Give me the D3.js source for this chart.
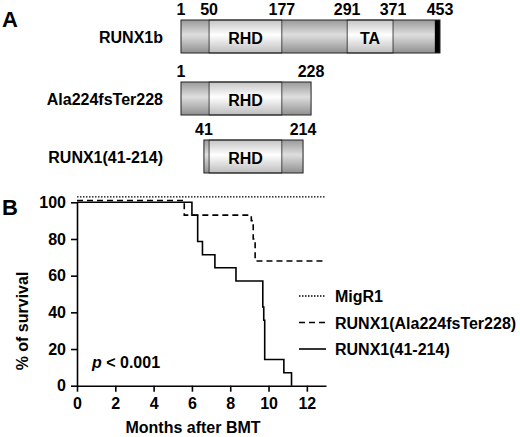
<!DOCTYPE html>
<html><head><meta charset="utf-8">
<script src="https://cdn.jsdelivr.net/npm/d3@7"></script>
<style>body{margin:0;background:#fff}text{font-family:Arial,"Liberation Sans",sans-serif;font-weight:bold}</style>
</head><body><div id="chart"></div>
<script>
// panel A: protein constructs
const constructs = ["RUNX1b", "Ala224fsTer228", "RUNX1(41-214)"]
const starts = [1, 1, 41]
const ends = [453, 228, 214]
const domainNames = ["RHD", "TA"]
const domainStart = [50, 291]
const domainEnd = [177, 371]
const posLabels = [[1, 50, 177, 291, 371, 453], [1, 228], [41, 214]]

// panel B: survival curves
const months = [0, 2, 4, 6, 8, 10, 12]
const pctTicks = [0, 20, 40, 60, 80, 100]
const migrT = [0, 13], migrS = [103, 103]
const alaT = [0, 5.6, 5.6, 9.1, 9.1, 9.2, 9.2, 9.3, 9.3, 13]
const alaS = [101, 101, 93, 93, 90, 90, 80, 80, 68, 68]
const runT = [0, 6.0, 6.0, 6.3, 6.3, 6.55, 6.55, 7.2, 7.2, 8.3, 8.3, 9.7, 9.7, 9.75, 9.75, 9.8, 9.8, 10.8, 10.8, 11.2, 11.2]
const runS = [100, 100, 92.9, 92.9, 78.6, 78.6, 71.4, 71.4, 64.3, 64.3, 57.1, 57.1, 42.9, 42.9, 35.7, 35.7, 14.3, 14.3, 7.1, 7.1, 0]

const svg = d3.select("#chart").append("svg").attr("width", 520).attr("height", 437)
const defs = svg.append("defs")
function grad(id, stops) {
  const g = defs.append("linearGradient").attr("id", id).attr("x1", 0).attr("y1", 0).attr("x2", 0).attr("y2", 1)
  stops.forEach(s => g.append("stop").attr("offset", s[0]).attr("stop-color", s[1]))
}
grad("gray", [[0, "#9a9a9a"], [0.45, "#dedede"], [1, "#909090"]])
grad("white", [[0, "#c4c4c4"], [0.45, "#ffffff"], [1, "#bcbcbc"]])

svg.append("text").attr("x", 2).attr("y", 27).attr("font-size", 22).text("A")
svg.append("text").attr("x", 2).attr("y", 215).attr("font-size", 22).text("B")

const aa = d3.scaleLinear().domain([1, 453]).range([181, 440])
const rowY = [20, 82, 140], barH = 33
constructs.forEach((name, i) => {
  const g = svg.append("g")
  const y = rowY[i]
  g.append("text").attr("x", 163).attr("y", y + 23).attr("text-anchor", "end").attr("font-size", 16).text(name)
  g.append("rect").attr("x", aa(starts[i])).attr("y", y).attr("width", aa(ends[i]) - aa(starts[i])).attr("height", barH)
    .attr("fill", "url(#gray)")
  domainNames.forEach((d, j) => {
    if (domainStart[j] >= ends[i]) return
    const x0 = aa(domainStart[j]), x1 = aa(Math.min(domainEnd[j], ends[i]))
    g.append("rect").attr("x", x0).attr("y", y).attr("width", x1 - x0).attr("height", barH)
      .attr("fill", "url(#white)").attr("stroke", "#222").attr("stroke-width", 0.8)
    g.append("text").attr("x", (x0 + x1) / 2).attr("y", y + 24).attr("text-anchor", "middle").attr("font-size", 16).text(d)
  })
  if (ends[i] === 453) {
    g.append("rect").attr("x", aa(444)).attr("y", y).attr("width", aa(453) - aa(444)).attr("height", barH).attr("fill", "#000")
  }
  g.append("rect").attr("x", aa(starts[i])).attr("y", y).attr("width", aa(ends[i]) - aa(starts[i])).attr("height", barH)
    .attr("fill", "none").attr("stroke", "#222").attr("stroke-width", 1)
  posLabels[i].forEach(p => {
    g.append("text").attr("x", aa(p)).attr("y", y - 5).attr("text-anchor", "middle").attr("font-size", 16).text(p)
  })
})

const x = d3.scaleLinear().domain([0, 13]).range([77, 326])
const yS = d3.scaleLinear().domain([0, 100]).range([385.7, 202.3])

svg.append("g").attr("transform", "translate(0,385.7)")
  .call(d3.axisBottom(x).tickValues(months).tickSize(6).tickPadding(6).tickSizeOuter(0))
  .call(g => g.selectAll("text").attr("font-size", 16).attr("font-family", "Arial").attr("fill", "#000"))
  .call(g => g.selectAll("path,line").attr("stroke", "#000").attr("stroke-width", 1.6))
svg.append("g").attr("transform", "translate(77,0)")
  .call(d3.axisLeft(yS).tickValues(pctTicks).tickSize(6).tickPadding(5).tickSizeOuter(0))
  .call(g => g.selectAll("text").attr("font-size", 16).attr("font-family", "Arial").attr("fill", "#000"))
  .call(g => g.selectAll("path,line").attr("stroke", "#000").attr("stroke-width", 1.6))

const line = d3.line().x(d => x(d[0])).y(d => yS(d[1]))
const series = [
  { t: migrT, s: migrS, dash: "1.5,1.5", w: 1.3 },
  { t: alaT, s: alaS, dash: "6,4", w: 1.6 },
  { t: runT, s: runS, dash: null, w: 1.6 }
]
series.forEach(d => {
  svg.append("path").datum(d.t.map((t, i) => [t, d.s[i]])).attr("d", line)
    .attr("fill", "none").attr("stroke", "#000").attr("stroke-width", d.w).attr("stroke-dasharray", d.dash)
})

svg.append("text").attr("x", 22).attr("y", 321).attr("text-anchor", "middle").attr("font-size", 16)
  .attr("dy", 6).attr("transform", "rotate(-90,22,321)").text("% of survival")
svg.append("text").attr("x", 193).attr("y", 433).attr("text-anchor", "middle").attr("font-size", 16).text("Months after BMT")
const p = svg.append("text").attr("x", 92).attr("y", 368).attr("font-size", 16)
p.append("tspan").attr("font-style", "italic").text("p")
p.append("tspan").text(" < 0.001")

const legNames = ["MigR1", "RUNX1(Ala224fsTer228)", "RUNX1(41-214)"]
legNames.forEach((n, i) => {
  const ly = 296 + i * 26.5
  svg.append("line").attr("x1", 299).attr("x2", 326).attr("y1", ly).attr("y2", ly)
    .attr("stroke", "#000").attr("stroke-width", series[i].w).attr("stroke-dasharray", series[i].dash)
  svg.append("text").attr("x", 335).attr("y", ly + 6).attr("font-size", 16).text(n)
})
</script></body></html>
